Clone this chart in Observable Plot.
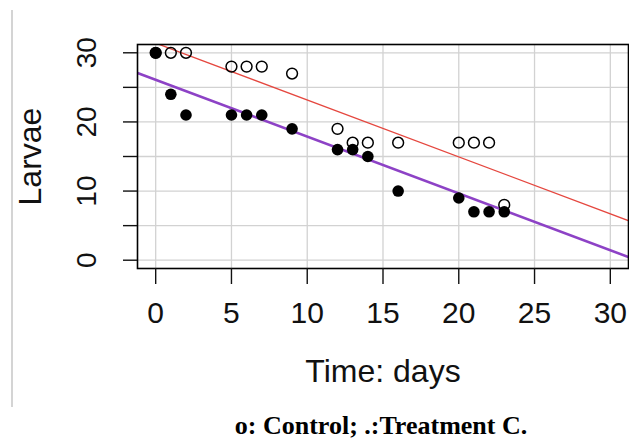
<!DOCTYPE html>
<html>
<head>
<meta charset="utf-8">
<script src="https://cdn.jsdelivr.net/npm/d3@7"></script>
<script src="https://cdn.jsdelivr.net/npm/@observablehq/plot@0.6"></script>
<style>
  html, body { margin: 0; padding: 0; background: #fff; }
  #wrap { position: relative; width: 629px; height: 439px; overflow: hidden; }
  #edge { position: absolute; left: 11px; top: 10px; width: 0; height: 397px; border-left: 2px solid #d4d4d4; z-index: 2; }
  #cap { position: absolute; left: 381px; top: 413px; transform: translateX(-50%); white-space: nowrap;
         font-family: "Liberation Serif", "Times New Roman", serif; font-weight: bold; font-size: 26px; line-height: 26px; color: #000; }
</style>
</head>
<body>
<div id="wrap"><div id="chart"></div><div id="edge"></div><div id="cap">o: Control; .:Treatment C.</div></div>
<script>
// Data
const days = [0, 1, 2, 5, 6, 7, 9, 12, 13, 14, 16, 20, 21, 22, 23];
const control = [30, 30, 30, 28, 28, 28, 27, 19, 17, 17, 17, 17, 17, 17, 8];
const treatment = [30, 24, 21, 21, 21, 21, 19, 16, 16, 15, 10, 9, 7, 7, 7];
// Fitted straight lines (intercept, slope)
const lineNames = ["Control", "Treatment C"];
const lineIntercepts = [31.4, 26.1];
const lineSlopes = [-0.823, -0.822];
const xTicks = [0, 5, 10, 15, 20, 25, 30];
const yTicks = [0, 5, 10, 15, 20, 25, 30];
const yTickLabels = [0, 10, 20, 30];
const xLabel = "Time: days";
const yLabel = "Larvae";

const xDomain = [-1.2, 31.2];
const yDomain = [-1.2, 31.2];

const controlPts = days.map((d, i) => ({day: d, larvae: control[i]}));
const treatPts = days.map((d, i) => ({day: d, larvae: treatment[i]}));
const lines = lineNames.map((name, i) => xDomain.map(x => ({name, x, y: lineIntercepts[i] + lineSlopes[i] * x}))).flat();

const font = "'Liberation Sans', Arial, Helvetica, sans-serif";

const chart = Plot.plot({
  width: 629,
  height: 400,
  marginLeft: 137,
  marginRight: 1,
  marginTop: 44,
  marginBottom: 132,
  style: {fontFamily: font, background: "transparent", color: "#111"},
  x: {domain: xDomain, label: null},
  y: {domain: yDomain, label: null},
  marks: [
    Plot.gridX(xTicks, {stroke: "#d2d2d2", strokeOpacity: 1, strokeWidth: 1.3}),
    Plot.gridY(yTicks, {stroke: "#d2d2d2", strokeOpacity: 1, strokeWidth: 1.3}),
    Plot.line(lines.filter(d => d.name === "Control"), {x: "x", y: "y", stroke: "#e5473f", strokeWidth: 1.3, clip: true}),
    Plot.line(lines.filter(d => d.name === "Treatment C"), {x: "x", y: "y", stroke: "#8d42c6", strokeWidth: 2.6, clip: true}),
    Plot.dot(controlPts, {x: "day", y: "larvae", r: 5.4, stroke: "#000", strokeWidth: 1.5, fill: "none"}),
    Plot.dot(treatPts, {x: "day", y: "larvae", r: 5.8, fill: "#000", stroke: "none"}),
    Plot.frame({stroke: "#000", strokeWidth: 1.6}),
    Plot.axisX(xTicks, {tickSize: 16, tickPadding: 17, fontSize: 30, label: null, strokeWidth: 1.4}),
    Plot.axisY(yTicks, {tickSize: 14, tickFormat: () => "", label: null, strokeWidth: 1.4}),
    Plot.text(yTickLabels, {y: d => d, text: d => String(d), frameAnchor: "left", textAnchor: "middle", dx: -50, rotate: -90, fontSize: 28, fill: "#111"}),
    Plot.text([yLabel], {text: d => d, frameAnchor: "left", textAnchor: "middle", dx: -107, rotate: -90, fontSize: 32, fill: "#111"}),
    Plot.text([xLabel], {text: d => d, frameAnchor: "bottom", textAnchor: "middle", lineAnchor: "top", dy: 91, fontSize: 32, fill: "#111"})
  ]
});
document.getElementById("chart").appendChild(chart);
</script>
</body>
</html>
